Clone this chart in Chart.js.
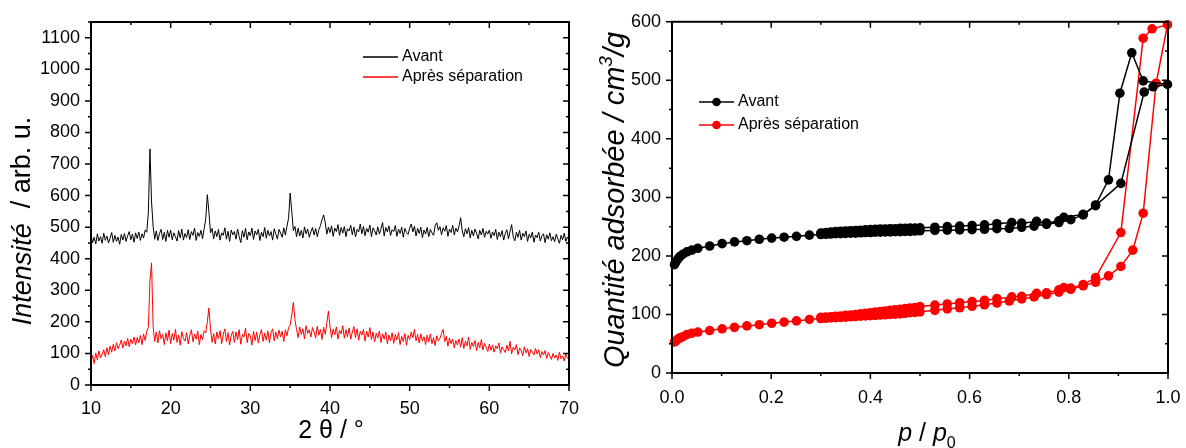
<!DOCTYPE html>
<html>
<head>
<meta charset="utf-8">
<script src="https://cdn.jsdelivr.net/npm/chart.js@4.4.1/dist/chart.umd.min.js"></script>
<style>
  html, body { margin: 0; padding: 0; background: #fff; overflow: hidden; width: 1186px; height: 448px; }
  canvas { position: absolute; top: 0; }
  #drx { left: 0; }
  #iso { left: 593px; }
</style>
</head>
<body>
<canvas id="drx" width="593" height="448"></canvas>
<canvas id="iso" width="610" height="448"></canvas>
<script>
const FONT = "'Liberation Sans', Arial, sans-serif";

// --- DRX : une valeur tous les 0.2° de 10 à 70°
const xrdStart = 10;
const xrdStep = 0.2;
const xrdAvant = [
  475, 451, 468, 447, 479, 456, 470, 449, 481, 458,
  472, 450, 466, 483, 452, 474, 455, 469, 446, 477,
  459, 480, 455, 473, 486, 460, 478, 452, 482, 464,
  485, 458, 479, 466, 491, 484, 548, 748, 580, 503,
  462, 488, 458, 480, 493, 461, 484, 455, 490, 468,
  491, 460, 482, 470, 456, 489, 466, 494, 459, 480,
  467, 492, 461, 486, 474, 497, 458, 483, 471, 490,
  463, 495, 525, 603, 548, 482, 496, 463, 488, 470,
  493, 459, 482, 474, 498, 462, 487, 455, 491, 476,
  486, 462, 494, 470, 451, 489, 468, 496, 460, 485,
  473, 497, 461, 488, 476, 493, 458, 484, 470, 499,
  465, 490, 472, 486, 459, 495, 478, 462, 493, 481,
  468, 498, 475, 503, 528, 608, 550, 489, 502, 470,
  497, 472, 490, 466, 501, 479, 494, 468, 485, 499,
  475, 496, 470, 492, 505, 524, 539, 515, 478, 500,
  483, 504, 471, 497, 486, 508, 474, 499, 481, 502,
  470, 495, 488, 506, 476, 500, 469, 493, 485, 510,
  479, 502, 473, 496, 484, 507, 470, 498, 489, 475,
  501, 478, 495, 515, 472, 499, 485, 504, 474, 492,
  486, 505, 471, 494, 480, 500, 468, 496, 483, 477,
  497, 510, 485, 503, 472, 496, 480, 500, 467, 491,
  478, 499, 470, 493, 482, 474, 505, 514, 490, 502,
  476, 498, 487, 505, 471, 494, 483, 506, 475, 497,
  485, 504, 530, 488, 470, 495, 479, 499, 466, 490,
  472, 494, 481, 463, 490, 475, 496, 468, 487, 478,
  491, 465, 485, 473, 493, 461, 484, 470, 489, 459,
  480, 492, 463, 486, 508, 470, 457, 484, 468, 490,
  459, 481, 470, 488, 455, 477, 466, 485, 452, 475,
  467, 484, 456, 473, 479, 451, 476, 462, 482, 457,
  470, 454, 478, 463, 449, 474, 460, 481, 455, 469,
  460
];
const xrdApres = [
  72, 94, 68, 101, 79, 108, 86, 97, 112, 90,
  118, 96, 123, 104, 129, 108, 134, 115, 126, 143,
  117, 139, 124, 148, 121, 145, 131, 152, 127, 150,
  133, 157, 128, 162, 141, 170, 182, 330, 387, 185,
  138, 168, 133, 172, 146, 160, 128, 165, 140, 174,
  131, 163, 142, 177, 135, 158, 126, 169, 148, 139,
  166, 130, 157, 175, 137, 162, 145, 171, 128, 160,
  144, 172, 165, 200, 244, 178, 135, 163, 130, 168,
  147, 172, 131, 160, 178, 138, 166, 127, 158, 170,
  135, 168, 143, 175, 129, 161, 152, 180, 134, 163,
  157, 126, 170, 141, 167, 133, 159, 176, 138, 164,
  142, 171, 134, 165, 178, 140, 168, 147, 174, 152,
  170, 138, 175, 156, 182, 190, 222, 262, 208, 176,
  150, 184, 160, 178, 146, 188, 163, 175, 152, 182,
  168, 149, 186, 158, 176, 144, 183, 161, 196, 234,
  185, 150, 177, 159, 184, 146, 173, 162, 188, 148,
  175, 153, 181, 145, 167, 185, 150, 178, 142, 170,
  158, 176, 139, 170, 152, 182, 144, 168, 137, 164,
  149, 171, 135, 162, 145, 168, 131, 158, 140, 165,
  132, 160, 143, 166, 128, 154, 138, 163, 126, 157,
  144, 168, 150, 176, 140, 160, 133, 162, 139, 153,
  128, 158, 136, 162, 131, 150, 125, 156, 140, 148,
  163, 176, 138, 154, 123, 149, 131, 145, 118, 141,
  127, 146, 120, 150, 116, 139, 124, 152, 113, 135,
  122, 141, 109, 135, 118, 144, 111, 132, 120, 106,
  130, 110, 127, 104, 124, 115, 133, 101, 121, 112,
  103, 126, 108, 138, 99, 120, 111, 128, 96, 117,
  109, 93, 121, 102, 115, 90, 112, 104, 95, 116,
  98, 112, 87, 106, 95, 109, 84, 103, 92, 81,
  100, 86, 95, 78, 104, 83, 92, 76, 98, 85,
  90
];

// --- Isothermes : adsorption puis désorption
const avantAdsP = [0.005, 0.008, 0.012, 0.016, 0.022, 0.03, 0.04, 0.052,
  0.076, 0.101, 0.126, 0.151, 0.176, 0.201, 0.226, 0.251, 0.277,
  0.30, 0.31, 0.32, 0.33, 0.34, 0.35, 0.36, 0.37, 0.38, 0.39, 0.40, 0.41, 0.42, 0.43, 0.44, 0.45, 0.46, 0.47, 0.48, 0.49, 0.50,
  0.53, 0.555, 0.58, 0.605, 0.63, 0.655, 0.68, 0.705, 0.73, 0.755, 0.78, 0.804, 0.829, 0.854,
  0.905, 0.952, 0.970, 0.999];
const avantAdsV = [185, 190, 195, 199, 203, 207, 210, 213,
  217, 221, 224, 226, 228.5, 230.5, 232, 233.5, 235.5,
  236.5, 237, 237.5, 238, 238, 238.5, 239, 239, 239.5, 240, 240, 240.5, 240.5, 241, 241, 241.5, 241.5, 242, 242, 242.5, 243,
  243.5, 244, 244.5, 245, 245.5, 246.5, 247, 249, 251, 254, 257, 262, 270, 286,
  324, 480, 489, 493];
const avantDesP = [0.950, 0.927, 0.903, 0.880, 0.854, 0.829, 0.79, 0.78, 0.755, 0.735, 0.705, 0.685, 0.655, 0.63, 0.605, 0.58, 0.555, 0.53,
  0.50, 0.49, 0.48, 0.47, 0.46, 0.45, 0.44, 0.43, 0.42, 0.41, 0.40, 0.39, 0.38, 0.37, 0.36, 0.35, 0.34, 0.33, 0.32, 0.31, 0.30];
const avantDesV = [499, 547, 478, 330, 287, 271, 266, 260, 256, 259, 256, 257, 255, 253, 252, 251, 250, 249,
  248, 247.5, 247.5, 247, 247, 246.5, 246.5, 246, 246, 245.5, 245, 244.5, 244, 243.5, 243, 242.5, 242, 241.5, 241, 240, 239];

const apresAdsP = [0.005, 0.008, 0.012, 0.016, 0.022, 0.03, 0.04, 0.052,
  0.076, 0.101, 0.126, 0.151, 0.176, 0.201, 0.226, 0.251, 0.277,
  0.30, 0.31, 0.32, 0.33, 0.34, 0.35, 0.36, 0.37, 0.38, 0.39, 0.40, 0.41, 0.42, 0.43, 0.44, 0.45, 0.46, 0.47, 0.48, 0.49, 0.50,
  0.53, 0.555, 0.58, 0.605, 0.63, 0.655, 0.68, 0.705, 0.73, 0.755, 0.78, 0.804, 0.829, 0.854,
  0.880, 0.905, 0.929, 0.950, 0.976, 0.999];
const apresAdsV = [53, 55, 58, 60, 62, 65.5, 68, 70,
  72.5, 75.5, 78, 80.5, 82.5, 85, 87, 89, 91.5,
  93, 93.5, 94, 94.5, 95, 95.5, 96, 96.5, 97, 97.5, 98, 98.5, 99, 99.5, 100, 100.5, 101, 102, 103, 103.5, 104.5,
  107, 109.5, 111.5, 114, 116.5, 119.5, 123, 126.5, 130, 134, 138, 143, 149, 155,
  166, 182, 210, 273, 495, 595];
const apresDesP = [0.968, 0.950, 0.905, 0.854, 0.829, 0.804, 0.79, 0.78, 0.755, 0.735, 0.705, 0.685, 0.655, 0.63, 0.605, 0.58, 0.555, 0.53,
  0.50, 0.49, 0.48, 0.47, 0.46, 0.45, 0.44, 0.43, 0.42, 0.41, 0.40, 0.39, 0.38, 0.37, 0.36, 0.35, 0.34, 0.33, 0.32, 0.31, 0.30];
const apresDesV = [588, 572, 240, 163, 151, 145, 146, 142, 137, 136, 131, 130, 127, 124, 122, 120, 118, 116,
  113.5, 112, 111, 110, 109, 108, 107, 106, 105, 104, 103, 102, 101, 100, 99, 98.5, 97.5, 97, 96, 95.5, 95];

const labels = ['Avant', 'Après séparation'];
const colors = ['#000000', '#ff0000'];

const xrdPts = arr => arr.map((y, i) => ({ x: xrdStart + i * xrdStep, y }));
const isoPts = (p, v) => p.map((x, i) => ({ x, y: v[i] }));

// cadre + graduations (majeures / mineures) sur les 4 côtés
function frameTicks(xMajor, xMinor, yMajor, yMinor) {
  return {
    id: 'frameTicks',
    afterDatasetsDraw(chart) {
      const { ctx, chartArea: a } = chart;
      const xs = chart.scales.x, ys = chart.scales.y;
      ctx.save();
      ctx.strokeStyle = '#000';
      ctx.lineWidth = 1.5;
      ctx.beginPath();
      let n = Math.round((xs.max - xs.min) / xMinor);
      for (let i = 0; i <= n; i++) {
        const px = xs.getPixelForValue(xs.min + i * xMinor);
        const len = i % Math.round(xMajor / xMinor) === 0 ? 6 : 3;
        ctx.moveTo(px, a.bottom); ctx.lineTo(px, a.bottom + len);
        ctx.moveTo(px, a.top); ctx.lineTo(px, a.top + len);
      }
      n = Math.round((ys.max - ys.min) / yMinor);
      for (let i = 0; i <= n; i++) {
        const py = ys.getPixelForValue(ys.min + i * yMinor);
        const len = i % Math.round(yMajor / yMinor) === 0 ? 6 : 3;
        ctx.moveTo(a.left - len, py); ctx.lineTo(a.left, py);
        ctx.moveTo(a.right - len, py); ctx.lineTo(a.right, py);
      }
      ctx.stroke();
      ctx.lineWidth = 2;
      ctx.strokeRect(a.left, a.top, a.right - a.left, a.bottom - a.top);
      ctx.restore();
    }
  };
}

// légende dessinée dans la zone du graphe
function innerLegend(x, y, gap, withDot) {
  return {
    id: 'innerLegend',
    afterDraw(chart) {
      const ctx = chart.ctx;
      ctx.save();
      ctx.font = '16px ' + FONT;
      ctx.textBaseline = 'middle';
      chart.data.datasets.forEach((ds, i) => {
        const yy = y + i * gap;
        ctx.strokeStyle = ds.borderColor;
        ctx.lineWidth = 1.5;
        ctx.beginPath(); ctx.moveTo(x, yy); ctx.lineTo(x + 35, yy); ctx.stroke();
        if (withDot) {
          ctx.fillStyle = ds.borderColor;
          ctx.beginPath(); ctx.arc(x + 17.5, yy, 4.3, 0, Math.PI * 2); ctx.fill();
        }
        ctx.fillStyle = '#000';
        ctx.fillText(ds.label, x + 39, yy);
      });
      ctx.restore();
    }
  };
}

// texte composé de morceaux (italique, exposant, indice), centré sur (cx, cy)
function drawParts(ctx, parts, cx, cy, rotate) {
  ctx.save();
  ctx.translate(cx, cy);
  if (rotate) ctx.rotate(-Math.PI / 2);
  ctx.textBaseline = 'middle';
  ctx.fillStyle = '#000';
  let total = 0;
  parts.forEach(p => { ctx.font = p.font; total += ctx.measureText(p.text).width; });
  let x = -total / 2;
  parts.forEach(p => {
    ctx.font = p.font;
    ctx.fillText(p.text, x, p.dy || 0);
    x += ctx.measureText(p.text).width;
  });
  ctx.restore();
}

function scaleBase(min, max, step, width, height, pad, fmt) {
  return {
    type: 'linear', min, max,
    grid: { display: false, drawTicks: false },
    border: { display: false },
    ticks: {
      stepSize: step, color: '#000', font: { family: FONT, size: 18 },
      padding: pad, autoSkip: false, maxRotation: 0,
      callback: fmt || (v => v)
    },
    afterBuildTicks: s => {
      const n = Math.floor((max - min) / step + 1e-6);
      s.ticks = [];
      for (let i = 0; i <= n; i++) s.ticks.push({ value: +(min + i * step).toFixed(6) });
    },
    afterFit: s => { if (width) s.width = width; if (height) s.height = height; }
  };
}

// --- graphe DRX
new Chart(document.getElementById('drx'), {
  type: 'scatter',
  data: {
    datasets: [
      { label: labels[0], data: xrdPts(xrdAvant), showLine: true, borderColor: colors[0], borderWidth: 1, pointRadius: 0 },
      { label: labels[1], data: xrdPts(xrdApres), showLine: true, borderColor: colors[1], borderWidth: 1, pointRadius: 0 }
    ]
  },
  options: {
    responsive: false,
    animation: false,
    layout: { padding: { left: 0, top: 22, right: 24, bottom: 0 } },
    plugins: { legend: { display: false }, tooltip: { enabled: false } },
    scales: {
      x: scaleBase(10, 70, 10, 0, 63, 13),
      y: scaleBase(0, 1150, 100, 91, 0, 11)
    }
  },
  plugins: [
    frameTicks(10, 5, 100, 50),
    innerLegend(363, 57, 20, false),
    {
      id: 'titles',
      afterDraw(chart) {
        const ctx = chart.ctx;
        drawParts(ctx, [
          { text: 'Intensité', font: 'italic 27px ' + FONT },
          { text: '  / arb. u.', font: '27px ' + FONT }
        ], 23, 221, true);
        drawParts(ctx, [{ text: '2 θ / °', font: '25px ' + FONT }], 331, 431, false);
      }
    }
  ]
});

// --- graphe isothermes
new Chart(document.getElementById('iso'), {
  type: 'scatter',
  data: {
    datasets: [
      { label: labels[0], data: isoPts(avantAdsP.concat(avantDesP), avantAdsV.concat(avantDesV)),
        showLine: true, borderColor: colors[0], backgroundColor: colors[0], borderWidth: 1.5,
        pointRadius: 4.8, pointBorderWidth: 0, clip: 5 },
      { label: labels[1], data: isoPts(apresAdsP.concat(apresDesP), apresAdsV.concat(apresDesV)),
        showLine: true, borderColor: colors[1], backgroundColor: colors[1], borderWidth: 1.5,
        pointRadius: 4.8, pointBorderWidth: 0, clip: 5 }
    ]
  },
  options: {
    responsive: false,
    animation: false,
    layout: { padding: { left: 0, top: 20, right: 35, bottom: 0 } },
    plugins: { legend: { display: false }, tooltip: { enabled: false } },
    scales: {
      x: scaleBase(0, 1, 0.2, 0, 75, 14, v => v.toFixed(1)),
      y: scaleBase(0, 600, 100, 79, 0, 11)
    }
  },
  plugins: [
    frameTicks(0.2, 0.1, 100, 50),
    innerLegend(106, 102, 23, true),
    {
      id: 'titles',
      afterDraw(chart) {
        const ctx = chart.ctx;
        drawParts(ctx, [
          { text: 'Quantité adsorbée / cm', font: 'italic 29px ' + FONT },
          { text: '3', font: 'italic 19px ' + FONT, dy: -9 },
          { text: '/g', font: 'italic 29px ' + FONT }
        ], 23, 200, true);
        drawParts(ctx, [
          { text: 'p', font: 'italic 25px ' + FONT },
          { text: ' / ', font: '25px ' + FONT },
          { text: 'p', font: 'italic 25px ' + FONT },
          { text: '0', font: '16px ' + FONT, dy: 10 }
        ], 334, 434, false);
      }
    }
  ]
});
</script>
</body>
</html>
